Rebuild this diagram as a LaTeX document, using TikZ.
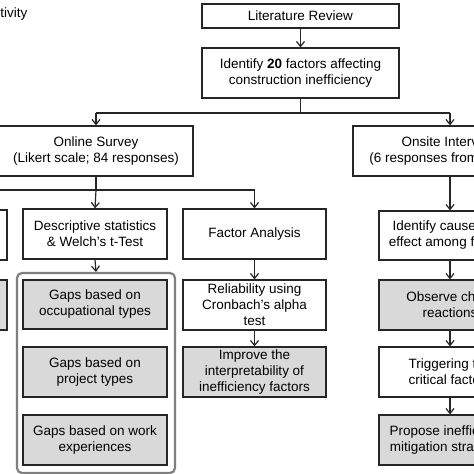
\documentclass[tikz,border=0pt]{standalone}
\usepackage{fontspec}
\setmainfont{Liberation Sans}
\usetikzlibrary{arrows.meta}
\definecolor{boxgray}{HTML}{D9D9D9}
\definecolor{linecol}{HTML}{262626}
\definecolor{framecol}{HTML}{7F7F7F}
\tikzset{
  base/.style={draw=linecol, line width=1.2pt, align=center, inner sep=2pt,
    font=\fontsize{13.5}{16}\selectfont, text=black},
  wbox/.style={base, fill=white},
  gbox/.style={base, fill=boxgray},
  arr/.style={draw=linecol, line width=1.2pt, -{Straight Barb[length=5pt,width=8pt,line width=1.2pt]}},
  ln/.style={draw=linecol, line width=1.2pt},
  frame/.style={draw=framecol, line width=2.2pt, rounded corners=5pt}
}
\begin{document}
\begin{tikzpicture}[x=1pt,y=-1pt]
\useasboundingbox (0,0) rectangle (474,474);
\clip (0,0) rectangle (474,474);
\fill[white] (0,0) rectangle (474,474);

\node[base, draw=none, fill=none, anchor=east] (leg) at (30,14) {activity};

\node[wbox, minimum width=197pt, minimum height=24pt] (lit) at (300.5,16) {Literature Review};
\node[wbox, minimum width=197pt, minimum height=50pt] (ident) at (300.5,73) {Identify \textbf{20} factors affecting\\construction inefficiency};

\node[wbox, minimum width=194pt, minimum height=50pt] (online) at (96,151) {Online Survey\\(Likert scale; 84 responses)};
\node[wbox, minimum width=194pt, minimum height=50pt] (onsite) at (450,151) {Onsite Interview\\(6 responses from experts)};

\node[wbox, minimum width=144pt, minimum height=50pt] (left1) at (-65,235) {};
\node[gbox, minimum width=144pt, minimum height=50pt] (left2) at (-65,305) {};

\node[wbox, minimum width=144pt, minimum height=50pt] (desc) at (95,234) {Descriptive statistics\\\& Welch's t-Test};
\node[wbox, minimum width=143pt, minimum height=50pt] (factor) at (254.5,234) {Factor Analysis};

\node[frame, minimum width=158pt, minimum height=200pt] (grp) at (96,373) {};
\node[gbox, minimum width=144pt, minimum height=49pt] (occ) at (95,304.5) {Gaps based on\\occupational types};
\node[gbox, minimum width=144pt, minimum height=50pt] (proj) at (95,372) {Gaps based on\\project types};
\node[gbox, minimum width=144pt, minimum height=50pt] (work) at (95,440) {Gaps based on work\\experiences};

\node[wbox, minimum width=143pt, minimum height=50pt] (rel) at (254.5,305) {Reliability using\\Cronbach's alpha\\test};
\node[gbox, minimum width=143pt, minimum height=50pt] (impr) at (254.5,372) {Improve the\\interpretability of\\inefficiency factors};

\node[wbox, minimum width=142pt, minimum height=49pt] (idc) at (450,235.5) {Identify cause-and-\\effect among factors};
\node[gbox, minimum width=142pt, minimum height=50pt] (obs) at (450,305) {Observe chain\\reactions};
\node[wbox, minimum width=142pt, minimum height=50pt] (trig) at (450,372) {Triggering the\\critical factors};
\node[gbox, minimum width=142pt, minimum height=50pt] (prop) at (450,440) {Propose inefficiency\\mitigation strategies};

\coordinate (j1) at (300.5,113);
\coordinate (j2) at (96,190);

\draw[arr] (lit) -- (ident);
\draw[ln] (ident.south) -- (j1);
\draw[ln] (online.north |- j1) -- (onsite.north |- j1);
\draw[arr] (online.north |- j1) -- (online.north);
\draw[arr] (onsite.north |- j1) -- (onsite.north);

\draw[ln] (online.south) -- (j2);
\draw[ln] (left1.north |- j2) -- (factor.north |- j2);
\draw[arr] (j2) -- (desc.north);
\draw[arr] (left1.north |- j2) -- (left1.north);
\draw[arr] (factor.north |- j2) -- (factor.north);

\draw[arr] (desc.south) -- (grp.north);
\draw[arr] (factor) -- (rel);
\draw[arr] (rel) -- (impr);

\draw[arr] (onsite) -- (idc);
\draw[arr] (idc) -- (obs);
\draw[arr] (obs) -- (trig);
\draw[arr] (trig) -- (prop);
\end{tikzpicture}
\end{document}
